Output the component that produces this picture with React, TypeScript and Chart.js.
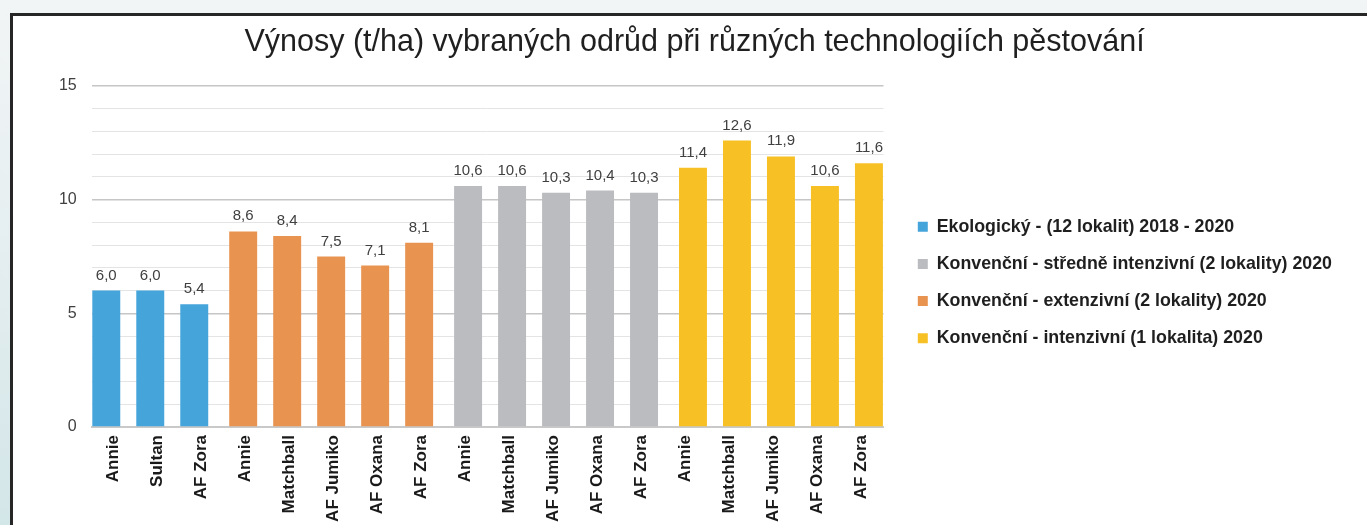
import React, { useEffect, useRef } from "react";
import { Chart, registerables } from "chart.js";

Chart.register(...registerables);

// ---- data ----
const ekoCategories = ["Annie", "Sultan", "AF Zora"];
const extCategories = ["Annie", "Matchball", "AF Jumiko", "AF Oxana", "AF Zora"];
const strCategories = ["Annie", "Matchball", "AF Jumiko", "AF Oxana", "AF Zora"];
const intCategories = ["Annie", "Matchball", "AF Jumiko", "AF Oxana", "AF Zora"];

const ekoValues = [6.0, 6.0, 5.4];
const extValues = [8.6, 8.4, 7.5, 7.1, 8.1];
const strValues = [10.6, 10.6, 10.3, 10.4, 10.3];
const intValues = [11.4, 12.6, 11.9, 10.6, 11.6];

const seriesNames = [
  "Ekologický - (12 lokalit) 2018 - 2020",
  "Konvenční - extenzivní (2 lokality) 2020",
  "Konvenční - středně intenzivní (2 lokality) 2020",
  "Konvenční - intenzivní (1 lokalita) 2020",
];
const seriesColors = ["#45A5DB", "#E89350", "#BBBCBF", "#F7C024"];
const legendOrder = [0, 2, 1, 3];

const yTicks = [0, 5, 10, 15];
const titleText = "Výnosy (t/ha) vybraných odrůd při různých technologiích pěstování";

const groups = [ekoValues, extValues, strValues, intValues];
const categories = [...ekoCategories, ...extCategories, ...strCategories, ...intCategories];

function buildSeries(groupIndex: number): (number | null)[] {
  const out: (number | null)[] = [];
  groups.forEach((g, gi) => {
    g.forEach((v) => out.push(gi === groupIndex ? v : null));
  });
  return out;
}

const FONT = '"Liberation Sans", Arial, Helvetica, sans-serif';
const CANVAS_W = 1354;
const CANVAS_H = 509;
const LEGEND_W = 483.5;

const legendFit = {
  id: "legendFit",
  beforeLayout(chart: any) {
    const lg = chart.legend;
    if (lg && !lg._patchedFit) {
      const orig = lg.fit.bind(lg);
      lg.fit = function () {
        orig();
        this.width = LEGEND_W;
      };
      lg._patchedFit = true;
    }
  },
  afterLayout(chart: any) {
    const lg = chart.legend;
    if (!lg) return;
    lg.left += 15;
    lg.right += 15;
    lg.top += 12;
    lg.bottom += 12;
  },
};

const valueLabels = {
  id: "valueLabels",
  afterDatasetsDraw(chart: any) {
    const ctx = chart.ctx;
    ctx.save();
    ctx.font = `15px ${FONT}`;
    ctx.fillStyle = "#404040";
    ctx.textAlign = "center";
    ctx.textBaseline = "alphabetic";
    chart.data.datasets.forEach((ds: any, i: number) => {
      const meta = chart.getDatasetMeta(i);
      meta.data.forEach((el: any, j: number) => {
        const v = ds.data[j];
        if (v == null) return;
        ctx.fillText(Number(v).toFixed(1).replace(".", ","), el.x, el.y - 11);
      });
    });
    ctx.restore();
  },
};

export default function App() {
  const ref = useRef<HTMLCanvasElement | null>(null);

  useEffect(() => {
    if (!ref.current) return;
    Chart.defaults.font.family = FONT;
    const chart = new Chart(ref.current, {
      type: "bar",
      data: {
        labels: categories,
        datasets: seriesNames.map((name, i) => ({
          label: name,
          data: buildSeries(i),
          backgroundColor: seriesColors[i],
          borderWidth: 0,
          categoryPercentage: 0.45,
          barPercentage: 5.65,
        })),
      },
      options: {
        responsive: false,
        animation: false,
        layout: { padding: { left: 9, right: 0, top: 0, bottom: 0 } },
        plugins: {
          title: {
            display: true,
            text: titleText,
            color: "#1f1f1f",
            font: { size: 30.5, weight: "normal", family: FONT },
            padding: { top: 8, bottom: 25.4 },
          },
          legend: {
            position: "right",
            labels: {
              boxWidth: 10,
              boxHeight: 10,
              padding: 19.3,
              color: "#1f1f1f",
              font: { size: 17.8, weight: "bold", family: FONT },
              sort: (a: any, b: any) =>
                legendOrder.indexOf(a.datasetIndex) - legendOrder.indexOf(b.datasetIndex),
            },
          },
          tooltip: { enabled: false },
        },
        scales: {
          x: {
            afterFit: (scale: any) => {
              scale.height = 98;
            },
            grid: { display: false, drawTicks: false },
            border: { display: true, color: "#c9c9c9", width: 2 },
            ticks: {
              autoSkip: false,
              maxRotation: 90,
              minRotation: 90,
              padding: 8,
              color: "#1a1a1a",
              font: { size: 17, weight: "bold", family: FONT },
            },
          },
          y: {
            min: 0,
            max: 15,
            afterFit: (scale: any) => {
              scale.width = 69.7;
            },
            border: { display: false },
            grid: {
              drawTicks: false,
              color: (c: any) => (c.tick && yTicks.includes(c.tick.value) ? "#c6c6c6" : "#e4e4e4"),
              lineWidth: (c: any) => (c.tick && yTicks.includes(c.tick.value) ? 1.5 : 1),
            },
            ticks: {
              autoSkip: false,
              stepSize: 1,
              padding: 15,
              color: "#404040",
              font: { size: 16, family: FONT },
              callback: (v: any) => (yTicks.includes(Number(v)) ? String(v) : ""),
            },
          },
        },
      },
      plugins: [legendFit, valueLabels],
    } as any);
    return () => chart.destroy();
  }, []);

  return (
    <div
      style={{
        position: "fixed",
        inset: 0,
        overflow: "hidden",
        background: "linear-gradient(to bottom, #f2f5f6 0%, #e4eef0 50%, #d3e6e8 100%)",
      }}
    >
      <div
        style={{
          position: "absolute",
          left: 10,
          top: 13,
          width: 1400,
          height: 600,
          borderLeft: "3px solid #262626",
          borderTop: "3px solid #262626",
          background: "#ffffff",
        }}
      >
        <canvas ref={ref} width={CANVAS_W} height={CANVAS_H} style={{ display: "block" }} />
      </div>
    </div>
  );
}
